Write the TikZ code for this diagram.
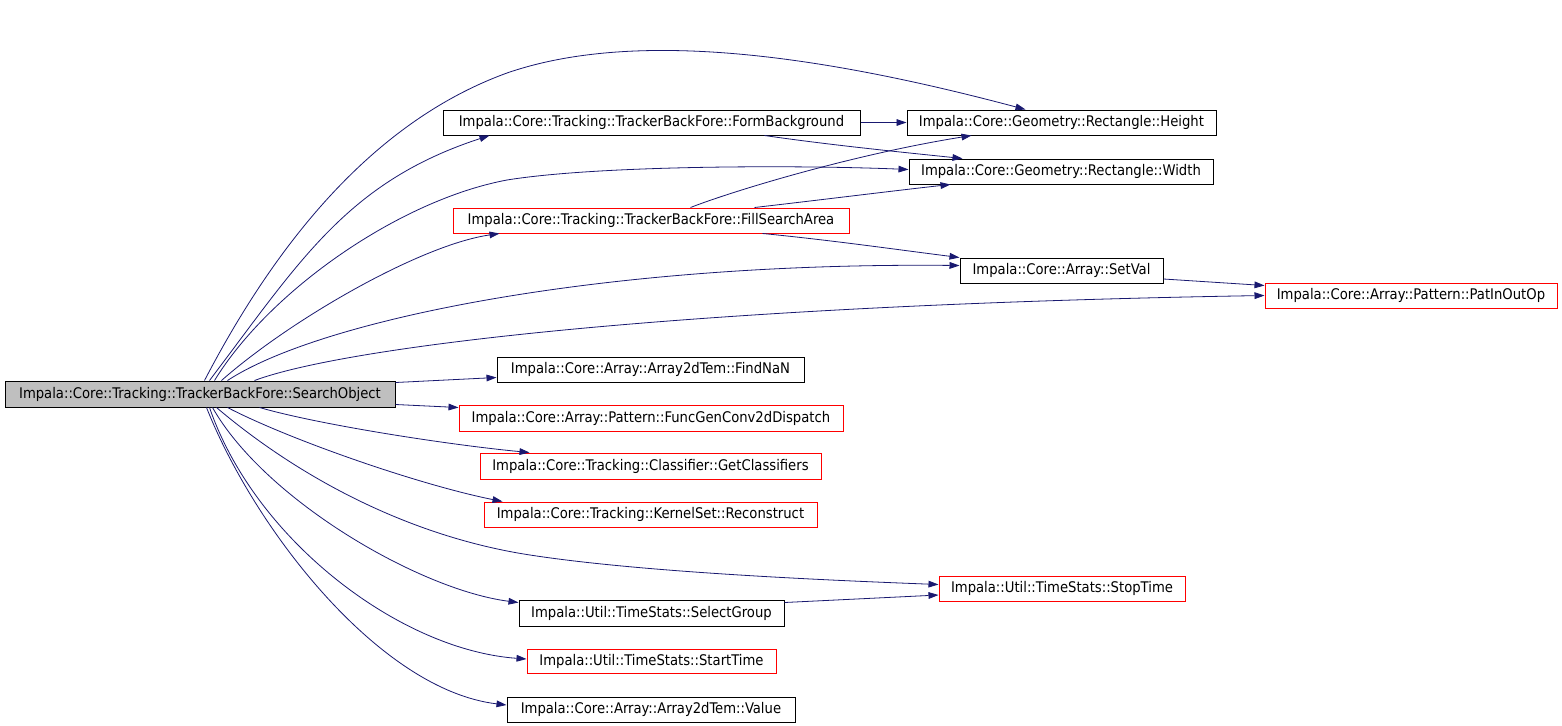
\documentclass[tikz,border=0pt]{standalone}
\usepackage{fontspec}
\setmainfont{DejaVu Sans Condensed}
\usetikzlibrary{calc,arrows.meta}
\definecolor{edgec}{HTML}{191970}
\definecolor{grayfill}{HTML}{BFBFBF}
\tikzset{
  bx/.style={draw=black, line width=0.75pt, minimum height=18.75pt, inner sep=0pt, font=\fontsize{11}{13}\selectfont},
  redbx/.style={bx, draw=red},
  wid/.style={minimum width=#1*0.75pt},
  ed/.style={draw=edgec, line width=0.6pt, -{Triangle[length=7.5pt,width=5pt]}},
}
\begin{document}
\begin{tikzpicture}[x=0.75pt,y=-0.75pt]
\useasboundingbox[fill=white] (0,0) rectangle (1562,725);
% nodes
\node[bx, fill=grayfill, wid=390, minimum height=19.5pt] (so) at (200,394) {Impala::Core::Tracking::TrackerBackFore::SearchObject};
\node[bx, wid=417] (fb) at (651.5,122.5) {Impala::Core::Tracking::TrackerBackFore::FormBackground};
\node[bx, wid=309] (ht) at (1061.5,122.5) {Impala::Core::Geometry::Rectangle::Height};
\node[bx, wid=304] (wd) at (1061,171.5) {Impala::Core::Geometry::Rectangle::Width};
\node[redbx, wid=396] (fs) at (651,220.5) {Impala::Core::Tracking::TrackerBackFore::FillSearchArea};
\node[bx, wid=203] (sv) at (1061.5,270.5) {Impala::Core::Array::SetVal};
\node[redbx, wid=292] (pio) at (1411,295.5) {Impala::Core::Array::Pattern::PatInOutOp};
\node[bx, wid=307] (fn) at (650.5,369.5) {Impala::Core::Array::Array2dTem::FindNaN};
\node[redbx, wid=384, minimum height=19.5pt] (fg) at (651,418) {Impala::Core::Array::Pattern::FuncGenConv2dDispatch};
\node[redbx, wid=341, minimum height=19.5pt] (gc) at (650.5,466) {Impala::Core::Tracking::Classifier::GetClassifiers};
\node[redbx, wid=333] (rc) at (650.5,514.5) {Impala::Core::Tracking::KernelSet::Reconstruct};
\node[redbx, wid=246] (st) at (1062,588.5) {Impala::Util::TimeStats::StopTime};
\node[bx, wid=265, minimum height=19.5pt] (sg) at (651.5,613) {Impala::Util::TimeStats::SelectGroup};
\node[redbx, wid=249, minimum height=18pt] (stt) at (651.5,661) {Impala::Util::TimeStats::StartTime};
\node[bx, wid=288] (val) at (651,709.5) {Impala::Core::Array::Array2dTem::Value};
% edges from SearchObject (top)
\draw[ed] ($(so.north west)+(200,0)$) .. controls (275,245) and (372,122) .. (507,73)
   .. controls (640,27) and (832,58) .. ($(ht.north west)+(119,0)$);
\draw[ed] ($(so.north west)+(205,0)$) .. controls (300,261) and (347,182) .. ($(fb.south west)+(47,0)$);
\draw[ed] ($(so.north west)+(210,0)$) .. controls (270,290) and (400,200) .. (507,180)
   .. controls (600,165) and (800,165) .. ($(wd.west)+(0,-2)$);
\draw[ed] ($(so.north west)+(217,0)$) .. controls (290,320) and (420,245) .. ($(fs.south west)+(47,0)$);
\draw[ed] ($(so.north west)+(223,0)$) .. controls (320,320) and (600,262) .. ($(sv.west)+(0,-5)$);
\draw[ed] ($(so.north west)+(250,0)$) .. controls (350,345) and (700,305) .. (pio.west);
% right side
\draw[ed] ($(so.north east)+(0,2)$) -- ($(fn.west)+(0,8)$);
\draw[ed] ($(so.south east)+(0,-3)$) -- ($(fg.north west)+(0,3)$);
% bottom
\draw[ed] ($(so.south west)+(255,0)$) .. controls (320,425) and (450,445) .. ($(gc.north west)+(50,0)$);
\draw[ed] ($(so.south west)+(223,0)$) .. controls (290,440) and (420,485) .. ($(rc.north west)+(19,0)$);
\draw[ed] ($(so.south west)+(212,0)$) .. controls (290,470) and (400,535) .. (530,555)
   .. controls (640,572) and (820,580) .. ($(st.west)+(0,-4)$);
\draw[ed] ($(so.south west)+(208,0)$) .. controls (265,500) and (420,590) .. ($(sg.north west)+(0,3)$);
\draw[ed] ($(so.south west)+(205,0)$) .. controls (255,540) and (400,650) .. ($(stt.west)+(0,-2)$);
\draw[ed] ($(so.south west)+(202,0)$) .. controls (255,530) and (380,690) .. ($(val.west)+(0,-4.5)$);
% secondary edges
\draw[ed] (fb.east) -- (ht.west);
\draw[ed] ($(fb.south west)+(322,0)$) .. controls (830,145) and (900,152) .. ($(wd.north west)+(54,0)$);
\draw[ed] ($(fs.north west)+(238,0)$) .. controls (730,192) and (850,155) .. ($(ht.south west)+(65,0)$);
\draw[ed] ($(fs.north west)+(302,0)$) .. controls (820,200) and (900,190) .. ($(wd.south west)+(42,0)$);
\draw[ed] ($(fs.south west)+(310,0)$) .. controls (830,240) and (900,250) .. (sv.north west);
\draw[ed] ($(sv.east)+(0,8.5)$) -- ($(pio.west)+(0,-10)$);
\draw[ed] ($(sg.north east)+(0,3)$) -- ($(st.west)+(0,6.5)$);
\end{tikzpicture}
\end{document}
